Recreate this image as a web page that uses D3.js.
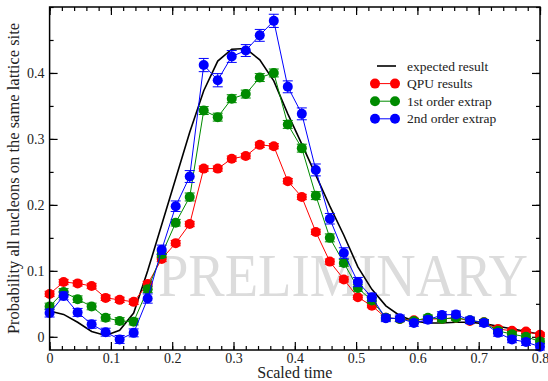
<!DOCTYPE html>
<html>
<head>
<meta charset="utf-8">
<script src="https://cdn.jsdelivr.net/npm/d3@7"></script>
<style>
  body { margin: 0; background: #fff; }
  svg { display: block; }
  .axis text { font-family: "Liberation Serif", "DejaVu Serif", serif; font-size: 14px; fill: #222; }
  .axis path { display: none; }
  .axis line { stroke: #000; stroke-width: 1.2; }
</style>
</head>
<body>
<svg id="chart" width="548" height="381"></svg>
<script>
// time points, 36 steps from 0 to 0.8
var times = d3.range(36).map(function(i) { return i * 0.8 / 35 })

var expected = [0.039, 0.034, 0.022, 0.008, 0.002, 0.010, 0.036, 0.100, 0.170, 0.240,
  0.310, 0.373, 0.418, 0.436, 0.437, 0.420, 0.388, 0.338, 0.292, 0.245,
  0.198, 0.154, 0.106, 0.072, 0.047, 0.032, 0.024, 0.021, 0.021, 0.022,
  0.022, 0.020, 0.016, 0.012, 0.008, 0.004]

var qpu = [0.065, 0.083, 0.081, 0.077, 0.059, 0.056, 0.053, 0.080, 0.118, 0.142,
  0.171, 0.255, 0.255, 0.270, 0.274, 0.291, 0.289, 0.236, 0.212, 0.159,
  0.114, 0.087, 0.060, 0.047, 0.029, 0.027, 0.025, 0.027, 0.027, 0.029,
  0.024, 0.022, 0.012, 0.009, 0.008, 0.003]
var qpuErr = [0.004, 0.004, 0.004, 0.004, 0.004, 0.004, 0.004, 0.004, 0.004, 0.004,
  0.004, 0.004, 0.004, 0.004, 0.004, 0.004, 0.004, 0.004, 0.004, 0.004,
  0.004, 0.004, 0.003, 0.003, 0.003, 0.003, 0.003, 0.003, 0.003, 0.003,
  0.003, 0.003, 0.003, 0.003, 0.003, 0.003]

var first = [0.046, 0.068, 0.057, 0.046, 0.029, 0.024, 0.023, 0.072, 0.125, 0.173,
  0.212, 0.343, 0.333, 0.361, 0.368, 0.393, 0.400, 0.322, 0.286, 0.214,
  0.150, 0.112, 0.074, 0.055, 0.029, 0.027, 0.024, 0.029, 0.027, 0.029,
  0.025, 0.022, 0.009, 0.004, 0.000, -0.007]
var firstErr = [0.005, 0.005, 0.005, 0.005, 0.005, 0.005, 0.005, 0.005, 0.005, 0.005,
  0.006, 0.006, 0.006, 0.006, 0.006, 0.006, 0.006, 0.006, 0.006, 0.006,
  0.006, 0.005, 0.005, 0.004, 0.004, 0.004, 0.004, 0.004, 0.004, 0.004,
  0.004, 0.004, 0.004, 0.004, 0.004, 0.004]

var second = [0.036, 0.062, 0.037, 0.019, 0.007, -0.004, 0.006, 0.058, 0.132, 0.198,
  0.243, 0.412, 0.389, 0.425, 0.434, 0.457, 0.479, 0.379, 0.338, 0.253,
  0.179, 0.127, 0.083, 0.060, 0.028, 0.028, 0.021, 0.026, 0.033, 0.034,
  0.025, 0.021, 0.006, -0.004, -0.008, -0.015]
var secondErr = [0.006, 0.006, 0.006, 0.006, 0.006, 0.006, 0.006, 0.007, 0.007, 0.008,
  0.009, 0.010, 0.010, 0.009, 0.009, 0.009, 0.010, 0.009, 0.009, 0.009,
  0.008, 0.008, 0.007, 0.006, 0.005, 0.005, 0.005, 0.005, 0.005, 0.005,
  0.005, 0.005, 0.005, 0.005, 0.005, 0.005]

var xTicks = [0, 0.1, 0.2, 0.3, 0.4, 0.5, 0.6, 0.7, 0.8]
var yTicks = [0, 0.1, 0.2, 0.3, 0.4]

var svg = d3.select("#chart")
var plotL = 49.6, plotR = 540, plotT = 7, plotB = 350

var x = d3.scaleLinear().domain([0, 0.8]).range([plotL, plotR])
var y = d3.scaleLinear().domain([-0.02, 0.5]).range([plotB, plotT])

function fmt(d) { return d === 0 ? "0" : d3.format(".1f")(d) }

// watermark goes under everything
svg.append("text")
  .attr("x", 343)
  .attr("y", 296)
  .attr("text-anchor", "middle")
  .attr("font-family", "Liberation Serif, serif")
  .attr("font-size", 62)
  .attr("textLength", 370)
  .attr("lengthAdjust", "spacingAndGlyphs")
  .attr("fill", "#dcdcdc")
  .text("PRELIMINARY")

// minor ticks (no labels) on all four sides
var xMinor = d3.range(0, 0.801, 0.02)
var yMinor = d3.range(0, 0.501, 0.05)

svg.append("g").attr("class", "axis")
  .attr("transform", "translate(0," + plotB + ")")
  .call(d3.axisBottom(x).tickValues(xMinor).tickSize(-4).tickFormat(""))
svg.append("g").attr("class", "axis")
  .attr("transform", "translate(0," + plotT + ")")
  .call(d3.axisTop(x).tickValues(xMinor).tickSize(-4).tickFormat(""))
svg.append("g").attr("class", "axis")
  .attr("transform", "translate(" + plotL + ",0)")
  .call(d3.axisLeft(y).tickValues(yMinor).tickSize(-4).tickFormat(""))
svg.append("g").attr("class", "axis")
  .attr("transform", "translate(" + plotR + ",0)")
  .call(d3.axisRight(y).tickValues(yMinor).tickSize(-4).tickFormat(""))

// major ticks
svg.append("g").attr("class", "axis")
  .attr("transform", "translate(0," + plotB + ")")
  .call(d3.axisBottom(x).tickValues(xTicks).tickSize(-8).tickPadding(3).tickFormat(fmt))
svg.append("g").attr("class", "axis")
  .attr("transform", "translate(0," + plotT + ")")
  .call(d3.axisTop(x).tickValues(xTicks).tickSize(-8).tickFormat(""))
svg.append("g").attr("class", "axis")
  .attr("transform", "translate(" + plotL + ",0)")
  .call(d3.axisLeft(y).tickValues(yTicks).tickSize(-8).tickPadding(5).tickFormat(fmt))
svg.append("g").attr("class", "axis")
  .attr("transform", "translate(" + plotR + ",0)")
  .call(d3.axisRight(y).tickValues(yTicks).tickSize(-8).tickFormat(""))

// expected result curve
var line = d3.line()
  .x(function(d) { return x(d[0]) })
  .y(function(d) { return y(d[1]) })

svg.append("path")
  .datum(d3.zip(times, expected))
  .attr("fill", "none")
  .attr("stroke", "#000")
  .attr("stroke-width", 1.6)
  .attr("d", line)

var series = [
  { vals: qpu, errs: qpuErr, color: "#ff0000" },
  { vals: first, errs: firstErr, color: "#008b00" },
  { vals: second, errs: secondErr, color: "#0000ff" }
]

series.forEach(function(s) {
  var pts = d3.zip(times, s.vals, s.errs)
  var g = svg.append("g")

  g.append("path")
    .datum(pts)
    .attr("fill", "none")
    .attr("stroke", s.color)
    .attr("stroke-width", 1)
    .attr("d", line)

  // error bars
  var eb = g.selectAll(".err")
    .data(pts)
  .enter().append("g")
    .attr("class", "err")
    .attr("stroke", s.color)
    .attr("stroke-width", 1)
  eb.append("line")
    .attr("x1", function(d) { return x(d[0]) })
    .attr("x2", function(d) { return x(d[0]) })
    .attr("y1", function(d) { return y(d[1] - d[2]) })
    .attr("y2", function(d) { return y(d[1] + d[2]) })
  eb.append("line")
    .attr("x1", function(d) { return x(d[0]) - 5 })
    .attr("x2", function(d) { return x(d[0]) + 5 })
    .attr("y1", function(d) { return y(d[1] + d[2]) })
    .attr("y2", function(d) { return y(d[1] + d[2]) })
  eb.append("line")
    .attr("x1", function(d) { return x(d[0]) - 5 })
    .attr("x2", function(d) { return x(d[0]) + 5 })
    .attr("y1", function(d) { return y(d[1] - d[2]) })
    .attr("y2", function(d) { return y(d[1] - d[2]) })

  g.selectAll(".dot")
    .data(pts)
  .enter().append("circle")
    .attr("class", "dot")
    .attr("fill", s.color)
    .attr("r", 5)
    .attr("cx", function(d) { return x(d[0]) })
    .attr("cy", function(d) { return y(d[1]) })
})

// frame
svg.append("rect")
  .attr("x", plotL).attr("y", plotT)
  .attr("width", plotR - plotL).attr("height", plotB - plotT)
  .attr("fill", "none")
  .attr("stroke", "#000")
  .attr("stroke-width", 1.5)

// legend
var legendNames = ["expected result", "QPU results", "1st order extrap", "2nd order extrap"]
var legendColors = ["#000", "#ff0000", "#008b00", "#0000ff"]
var leg = svg.append("g")
legendNames.forEach(function(name, i) {
  var ly = 66 + i * 17.6
  var row = leg.append("g")
  if (i === 0) {
    row.append("line")
      .attr("x1", 377).attr("x2", 396)
      .attr("y1", ly).attr("y2", ly)
      .attr("stroke", "#000").attr("stroke-width", 1.6)
  } else {
    row.append("line")
      .attr("x1", 375).attr("x2", 395)
      .attr("y1", ly).attr("y2", ly)
      .attr("stroke", legendColors[i]).attr("stroke-width", 1)
    row.append("circle").attr("cx", 375).attr("cy", ly).attr("r", 5).attr("fill", legendColors[i])
    row.append("circle").attr("cx", 395).attr("cy", ly).attr("r", 5).attr("fill", legendColors[i])
  }
  row.append("text")
    .attr("x", 407).attr("y", ly + 4.5)
    .attr("font-family", "Liberation Serif, serif")
    .attr("font-size", 13.5)
    .attr("fill", "#222")
    .text(name)
})

// axis titles
svg.append("text")
  .attr("x", (plotL + plotR) / 2)
  .attr("y", 378)
  .attr("text-anchor", "middle")
  .attr("font-family", "Liberation Serif, serif")
  .attr("font-size", 16)
  .attr("fill", "#222")
  .text("Scaled time")

svg.append("text")
  .attr("transform", "translate(19," + ((plotT + plotB) / 2) + ") rotate(-90)")
  .attr("text-anchor", "middle")
  .attr("font-family", "Liberation Serif, serif")
  .attr("font-size", 16.5)
  .attr("fill", "#222")
  .text("Probability all nucleons on the same lattice site")
</script>
</body>
</html>
